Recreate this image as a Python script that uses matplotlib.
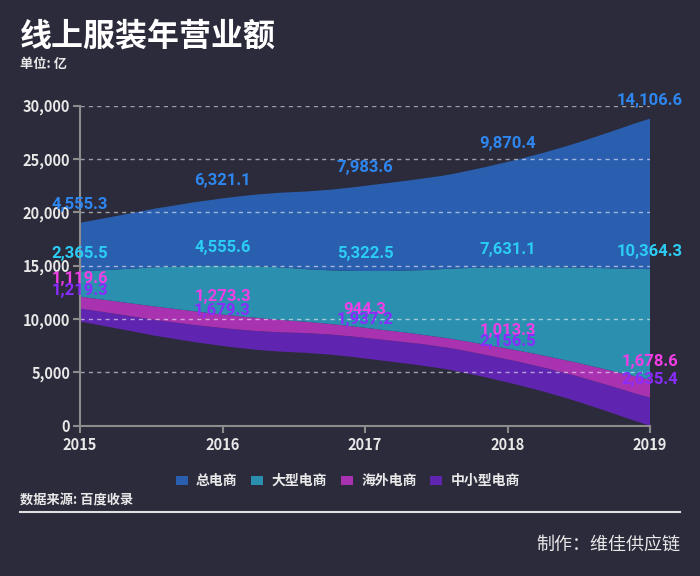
import matplotlib
matplotlib.use('Agg')
import matplotlib.pyplot as plt
from matplotlib import font_manager
from matplotlib.path import Path
from matplotlib.patches import PathPatch, Patch
from matplotlib.lines import Line2D
from matplotlib.ticker import StrMethodFormatter
import numpy as np

years = [2015, 2016, 2017, 2018, 2019]
series_names = ['总电商', '大型电商', '海外电商', '中小型电商']
total_ec = [4555.3, 6321.1, 7983.6, 9870.4, 14106.6]
large_ec = [2365.5, 4555.6, 5322.5, 7631.1, 10364.3]
overseas_ec = [1119.6, 1273.3, 944.3, 1013.3, 1678.6]
small_ec = [1219.3, 1679.3, 1937.2, 2156.5, 2635.4]

band_colors = ['#2a5fb0', '#2b8fb0', '#a832b0', '#5f25b0']
label_colors = ['#2e86f0', '#2ccdf5', '#f23ee6', '#8a2cff']

bg = '#2c2b3b'
txt = '#e8e8e8'
axis_col = '#8c8c8c'

plt.rcParams['font.family'] = ['Noto Sans CJK SC', 'DejaVu Sans']
names = {f.name for f in font_manager.fontManager.ttflist}
num_font = 'Roboto' if 'Roboto' in names else 'DejaVu Sans'


def smooth_verts(xs, ys, k=0.25):
    # cubic bezier control points, echarts-like smoothing
    pts = np.column_stack([xs, ys]).astype(float)
    n = len(pts)
    verts = [pts[0]]
    for i in range(n - 1):
        prev = pts[i - 1] if i > 0 else pts[i]
        nxt2 = pts[i + 2] if i + 2 < n else pts[i + 1]
        c1 = pts[i] + k * (pts[i + 1] - prev)
        c2 = pts[i + 1] - k * (nxt2 - pts[i])
        verts += [c1, c2, pts[i + 1]]
    return verts


fig = plt.figure(figsize=(7, 5.76), dpi=100, facecolor=bg)
ax = fig.add_axes([80 / 700, 1 - 425.7 / 576, 570 / 700, 320 / 576])
ax.set_facecolor(bg)

# stack bottom -> top, centred around half of the largest total
stack = [small_ec, overseas_ec, large_ec, total_ec]
stack_colors = band_colors[::-1]
stack_label_colors = label_colors[::-1]
totals = np.sum(np.array(stack), axis=0)
base = (totals.max() - totals) / 2

bottom = base.copy()
label_items = []
for vals, col, lcol in zip(stack, stack_colors, stack_label_colors):
    top = bottom + np.array(vals)
    tv = smooth_verts(years, top)
    bv = smooth_verts(years, bottom)
    verts = tv + bv[::-1] + [tv[0]]
    codes = ([Path.MOVETO] + [Path.CURVE4] * (len(tv) - 1) + [Path.LINETO]
             + [Path.CURVE4] * (len(bv) - 1) + [Path.CLOSEPOLY])
    ax.add_patch(PathPatch(Path(verts, codes), facecolor=col, edgecolor='none', zorder=1))
    for x, y, v in zip(years, top, vals):
        label_items.append((x, y, v, lcol))
    bottom = top

for x, y, v, lcol in label_items[::-1]:
    ax.annotate(f'{v:,.1f}', (x, y), xytext=(0, 18), textcoords='offset pixels',
                ha='center', va='center', fontsize=12, fontweight='bold',
                family=[num_font, 'DejaVu Sans'], color=lcol, zorder=5,
                annotation_clip=False)

ax.set_xlim(2015, 2019)
ax.set_ylim(0, 30000)
ax.set_xticks(years)
ax.set_yticks(range(0, 30001, 5000))
ax.yaxis.set_major_formatter(StrMethodFormatter('{x:,.0f}'))
ax.set_axisbelow(False)
ax.yaxis.grid(True, color='white', alpha=0.55, linestyle=(0, (3, 3)), linewidth=1)
for s in ['top', 'right']:
    ax.spines[s].set_visible(False)
for s in ['left', 'bottom']:
    ax.spines[s].set_color(axis_col)
    ax.spines[s].set_linewidth(1.5)
    ax.spines[s].set_zorder(4)
ax.tick_params(colors=axis_col, length=5, width=1.5, direction='out')
ax.tick_params(axis='y', pad=2)
ax.tick_params(axis='x', pad=3)
for lab in ax.get_xticklabels() + ax.get_yticklabels():
    lab.set_color(txt)
    lab.set_fontsize(10.5)
    lab.set_fontweight('bold')

handles = [Patch(facecolor=c, edgecolor='none') for c in band_colors]
fig.legend(handles, series_names, loc='center', bbox_to_anchor=(0.497, 1 - 481 / 576),
           ncol=4, frameon=False, handlelength=0.85, handleheight=0.6,
           handletextpad=0.6, columnspacing=1.0, labelcolor=txt,
           prop={'size': 10, 'weight': 'bold'})

fig.text(20 / 700, 1 - 37 / 576, '线上服装年营业额', fontsize=23, fontweight='bold',
         color='white', va='center')
fig.text(20 / 700, 1 - 64 / 576, '单位: 亿', fontsize=9.5, fontweight='bold',
         color=txt, va='center')
fig.text(20 / 700, 1 - 500 / 576, '数据来源: 百度收录', fontsize=9.5, fontweight='bold',
         color=txt, va='center')
fig.add_artist(Line2D([20 / 700, 680 / 700], [1 - 512 / 576] * 2, color='#e0e0e0', lw=1.5))
fig.text(680 / 700, 1 - 545 / 576, '制作：维佳供应链', fontsize=13,
         color=txt, ha='right', va='center')

fig.savefig('out.png', dpi=100, facecolor=bg)
